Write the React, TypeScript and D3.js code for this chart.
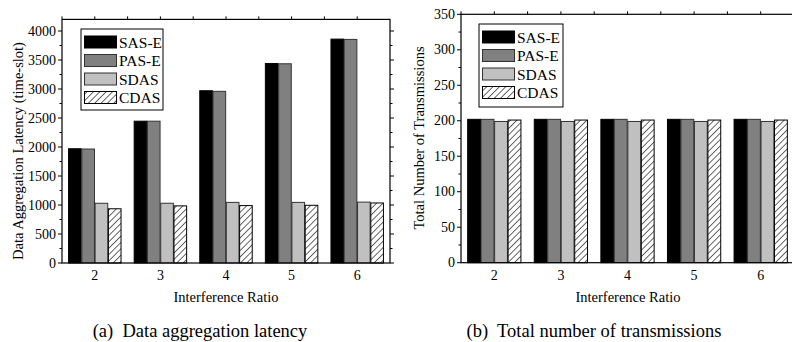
import React, { useEffect, useRef } from "react";
import * as d3 from "d3";

const categories = ["2", "3", "4", "5", "6"];
const seriesNames = ["SAS-E", "PAS-E", "SDAS", "CDAS"];

const latencySAS = [1970, 2445, 2970, 3440, 3860];
const latencyPAS = [1965, 2445, 2960, 3435, 3855];
const latencySDAS = [1030, 1030, 1045, 1045, 1050];
const latencyCDAS = [935, 985, 990, 995, 1035];

const transSAS = [202, 202, 202, 202, 202];
const transPAS = [202, 202, 202, 202, 202];
const transSDAS = [199, 199, 199, 199, 199];
const transCDAS = [201, 201, 201, 201, 201];

const latencyTicks = [0, 500, 1000, 1500, 2000, 2500, 3000, 3500, 4000];
const transTicks = [0, 50, 100, 150, 200, 250, 300, 350];

const FONT = "Liberation Serif, Times New Roman, serif";
const fills = ["#000000", "#808080", "#c0c0c0", "url(#hatch)"];
const strokes = ["#000000", "#333333", "#333333", "#000000"];

function drawPanel(svg, cfg) {
  const { left, right, top, bottom, yMax, yTicks, minorStep, series, yLabel, caption, legend, labelX } = cfg;
  const g = svg.append("g");

  const x = d3.scaleBand().domain(categories).range([left, right]).paddingInner(0.18).paddingOuter(0.09);
  const xs = d3.scaleBand().domain(seriesNames).range([0, x.bandwidth()]).padding(0.05);
  const y = d3.scaleLinear().domain([0, yMax]).range([bottom, top]);

  // bars
  series.forEach((vals, si) => {
    g.selectAll(null)
      .data(vals)
      .enter()
      .append("rect")
      .attr("x", (d, i) => x(categories[i]) + xs(seriesNames[si]))
      .attr("y", (d) => y(d))
      .attr("width", xs.bandwidth())
      .attr("height", (d) => bottom - y(d))
      .attr("fill", fills[si])
      .attr("stroke", strokes[si])
      .attr("stroke-width", 1);
  });

  // frame
  g.append("rect")
    .attr("x", left)
    .attr("y", top)
    .attr("width", right - left)
    .attr("height", bottom - top)
    .attr("fill", "none")
    .attr("stroke", "#000")
    .attr("stroke-width", 1.2);

  // y ticks, outward on both sides
  const minor = d3.range(0, yMax + 0.001, minorStep);
  minor.forEach((v) => {
    const major = yTicks.includes(v);
    const len = major ? 4 : 2.5;
    g.append("line").attr("x1", left - len).attr("x2", left).attr("y1", y(v)).attr("y2", y(v)).attr("stroke", "#000");
    g.append("line").attr("x1", right).attr("x2", right + len).attr("y1", y(v)).attr("y2", y(v)).attr("stroke", "#000");
  });

  yTicks.forEach((v) => {
    g.append("text")
      .attr("x", left - 6)
      .attr("y", y(v) + 4.5)
      .attr("text-anchor", "end")
      .attr("font-family", FONT)
      .attr("font-size", 14)
      .text(v);
  });

  // top ticks at centers and boundaries
  const step = x.step();
  categories.forEach((c) => {
    const cx = x(c) + x.bandwidth() / 2;
    [cx - step / 2, cx].forEach((tx) => {
      g.append("line").attr("x1", tx).attr("x2", tx).attr("y1", top - 3).attr("y2", top).attr("stroke", "#000");
    });
    g.append("text")
      .attr("x", cx)
      .attr("y", bottom + 17)
      .attr("text-anchor", "middle")
      .attr("font-family", FONT)
      .attr("font-size", 14)
      .text(c);
  });

  g.append("text")
    .attr("x", cfg.xLabelX)
    .attr("y", 302)
    .attr("text-anchor", "middle")
    .attr("font-family", FONT)
    .attr("font-size", 14.5)
    .text("Interference Ratio");

  g.append("text")
    .attr("transform", `translate(${labelX},${cfg.yLabelY}) rotate(-90)`)
    .attr("text-anchor", "middle")
    .attr("font-family", FONT)
    .attr("font-size", 14.5)
    .text(yLabel);

  g.append("text")
    .attr("x", caption.x)
    .attr("y", 337)
    .attr("text-anchor", "middle")
    .attr("font-family", FONT)
    .attr("font-size", 18.5)
    .attr("xml:space", "preserve")
    .text(caption.text);

  // legend
  const lg = g.append("g");
  lg.append("rect")
    .attr("x", legend.x)
    .attr("y", legend.y)
    .attr("width", legend.w)
    .attr("height", legend.h)
    .attr("fill", "#fff")
    .attr("stroke", "#000")
    .attr("stroke-width", 1);
  seriesNames.forEach((name, i) => {
    const ry = legend.y + 13 + i * 18.5;
    lg.append("rect")
      .attr("x", legend.x + 3.5)
      .attr("y", ry - 6)
      .attr("width", 32)
      .attr("height", 12)
      .attr("fill", fills[i])
      .attr("stroke", strokes[i])
      .attr("stroke-width", 1);
    lg.append("text")
      .attr("x", legend.x + 38)
      .attr("y", ry + 5.5)
      .attr("font-family", FONT)
      .attr("font-size", 15.5)
      .text(name);
  });
}

export default function App() {
  const ref = useRef(null);

  useEffect(() => {
    const svg = d3.select(ref.current);
    svg.selectAll("*").remove();

    const pattern = svg
      .append("defs")
      .append("pattern")
      .attr("id", "hatch")
      .attr("patternUnits", "userSpaceOnUse")
      .attr("width", 4.5)
      .attr("height", 4.5)
      .attr("patternTransform", "rotate(45)");
    pattern.append("rect").attr("width", 4.5).attr("height", 4.5).attr("fill", "#fff");
    pattern.append("line").attr("x1", 0).attr("y1", 0).attr("x2", 0).attr("y2", 4.5).attr("stroke", "#000").attr("stroke-width", 1.2);

    drawPanel(svg, {
      left: 62,
      right: 390,
      top: 19.4,
      bottom: 263,
      yMax: 4200,
      yTicks: latencyTicks,
      minorStep: 250,
      series: [latencySAS, latencyPAS, latencySDAS, latencyCDAS],
      yLabel: "Data Aggregation Latency (time-slot)",
      labelX: 23,
      yLabelY: 151,
      xLabelX: 226,
      caption: { x: 200, text: "(a)  Data aggregation latency" },
      legend: { x: 81, y: 29, w: 82, h: 81 },
    });

    drawPanel(svg, {
      left: 461,
      right: 794,
      top: 14.3,
      bottom: 262.7,
      yMax: 350,
      yTicks: transTicks,
      minorStep: 25,
      series: [transSAS, transPAS, transSDAS, transCDAS],
      yLabel: "Total Number of Transmissions",
      labelX: 424,
      yLabelY: 138,
      xLabelX: 628,
      caption: { x: 594, text: "(b)  Total number of transmissions" },
      legend: { x: 479, y: 24, w: 84, h: 83 },
    });
  }, []);

  return (
    <svg
      ref={ref}
      width={792}
      height={342}
      style={{ position: "absolute", left: 0, top: 0, background: "#fff" }}
    ></svg>
  );
}
